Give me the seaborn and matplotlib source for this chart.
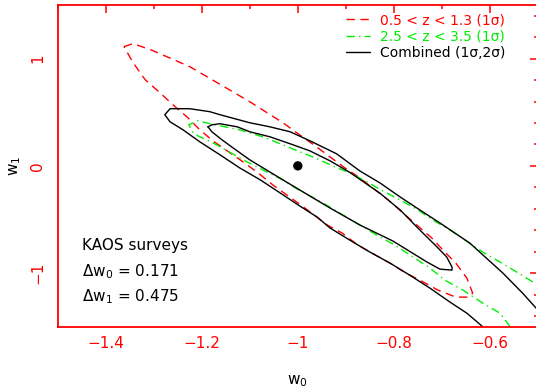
import numpy as np
import pandas as pd
import matplotlib
matplotlib.use("Agg")
import matplotlib.pyplot as plt
from matplotlib.lines import Line2D
import seaborn as sns

# ---------------- data ----------------
# 0.5 < z < 1.3 (1 sigma), closed contour
red_w0 = [-1.362, -1.343, -1.302, -1.225, -1.168, -1.100, -1.031, -1.002, -0.964, -0.933,
          -0.902, -0.871, -0.812, -0.781, -0.750, -0.721, -0.696, -0.671, -0.648, -0.636,
          -0.645, -0.671, -0.708, -0.742, -0.775, -0.808, -0.842, -0.875, -0.908, -0.939,
          -0.969, -0.991, -1.023, -1.052, -1.083, -1.114, -1.141, -1.177, -1.204, -1.229,
          -1.260, -1.287, -1.318, -1.343, -1.362]
red_w1 = [1.112, 1.140, 1.075, 0.925, 0.776, 0.598, 0.402, 0.308, 0.187, 0.084,
          -0.019, -0.112, -0.318, -0.439, -0.561, -0.673, -0.794, -0.907, -1.047, -1.187,
          -1.224, -1.224, -1.159, -1.075, -1.000, -0.907, -0.822, -0.738, -0.626, -0.551,
          -0.449, -0.374, -0.271, -0.178, -0.065, 0.037, 0.121, 0.234, 0.336, 0.449,
          0.570, 0.682, 0.804, 0.963, 1.112]

# 2.5 < z < 3.5 (1 sigma), clipped by the axes
green_w0 = [-0.558, -0.579, -0.615, -0.656, -0.694, -0.725, -0.760, -0.798, -0.829, -0.871,
            -0.906, -0.937, -0.971, -1.002, -1.031, -1.073, -1.110, -1.173, -1.208, -1.218,
            -1.227, -1.208, -1.183, -1.121, -1.073, -1.031, -0.996, -0.969, -0.923, -0.892,
            -0.856, -0.823, -0.787, -0.750, -0.719, -0.683, -0.646, -0.615, -0.579, -0.544,
            -0.500]
green_w1 = [-1.500, -1.374, -1.280, -1.159, -1.065, -0.953, -0.850, -0.738, -0.664, -0.551,
            -0.458, -0.374, -0.290, -0.215, -0.131, -0.037, 0.047, 0.206, 0.280, 0.308,
            0.383, 0.421, 0.393, 0.336, 0.271, 0.196, 0.131, 0.084, -0.009, -0.065,
            -0.150, -0.234, -0.318, -0.411, -0.505, -0.598, -0.710, -0.804, -0.897, -0.991,
            -1.112]

# Combined 2 sigma, clipped by the axes
outer_w0 = [-0.615, -0.648, -0.683, -0.725, -0.767, -0.808, -0.850, -0.892, -0.933, -0.960,
            -0.996, -1.037, -1.078, -1.121, -1.162, -1.204, -1.239, -1.266, -1.277,
            -1.266, -1.225, -1.183, -1.162, -1.100, -1.058, -1.016, -0.975, -0.919,
            -0.871, -0.829, -0.787, -0.746, -0.704, -0.642, -0.573, -0.532, -0.500]
outer_w1 = [-1.500, -1.374, -1.271, -1.140, -1.019, -0.907, -0.804, -0.692, -0.579, -0.477,
            -0.374, -0.252, -0.131, -0.019, 0.103, 0.224, 0.336, 0.411, 0.477,
            0.533, 0.533, 0.505, 0.477, 0.402, 0.364, 0.318, 0.234, 0.112,
            -0.047, -0.159, -0.290, -0.411, -0.533, -0.720, -1.000, -1.187, -1.346]

# Combined 1 sigma, closed contour
inner_w0 = [-1.187, -1.179, -1.162, -1.126, -1.100, -1.058, -1.016, -0.975, -0.933, -0.892,
            -0.850, -0.829, -0.787, -0.746, -0.710, -0.690, -0.679, -0.679, -0.704, -0.731,
            -0.802, -0.871, -0.933, -1.031, -1.100, -1.135, -1.158, -1.179, -1.187]
inner_w1 = [0.364, 0.383, 0.393, 0.364, 0.318, 0.271, 0.206, 0.140, 0.047, -0.060,
            -0.190, -0.255, -0.411, -0.598, -0.757, -0.850, -0.944, -0.972, -0.963, -0.897,
            -0.701, -0.551, -0.393, -0.131, 0.056, 0.168, 0.243, 0.318, 0.364]

fiducial_w0 = [-1.0]
fiducial_w1 = [0.0]

legend_labels = ["0.5 < z < 1.3 (1σ)", "2.5 < z < 3.5 (1σ)", "Combined (1σ,2σ)"]
annot_lines = ["KAOS surveys", "Δw$_0$ = 0.171", "Δw$_1$ = 0.475"]

x_ticks = [-1.4, -1.2, -1.0, -0.8, -0.6]
x_ticklabels = ["−1.4", "−1.2", "−1", "−0.8", "−0.6"]
y_ticks = [-1, 0, 1]
y_ticklabels = ["−1", "0", "1"]

# ---------------- styling ----------------
sns.set_style("white")
plt.rcParams["font.family"] = ["DejaVu Sans"]
plt.rcParams["mathtext.default"] = "regular"

RED = "#ff0000"
GREEN = "#00ee00"
dash_red = (0, (6, 4))
dash_green = (0, (6, 3, 1, 3))

fig = plt.figure(figsize=(5.36, 3.89), dpi=100)
ax = fig.add_axes([0.1076, 0.1601, 0.8961, 0.8270])

sns.lineplot(x=red_w0, y=red_w1, sort=False, estimator=None, ax=ax, color=RED,
             linestyle=dash_red, lw=1.0, legend=False)
sns.lineplot(x=green_w0, y=green_w1, sort=False, estimator=None, ax=ax, color=GREEN,
             linestyle=dash_green, lw=1.0, legend=False)
sns.lineplot(x=outer_w0, y=outer_w1, sort=False, estimator=None, ax=ax, color="black",
             lw=1.0, legend=False)
sns.lineplot(x=inner_w0, y=inner_w1, sort=False, estimator=None, ax=ax, color="black",
             lw=1.0, legend=False)
sns.scatterplot(x=fiducial_w0, y=fiducial_w1, ax=ax, color="black", s=45,
                edgecolor="none", legend=False)

ax.set_xlim(-1.5, -0.5)
ax.set_ylim(-1.5, 1.5)

ax.set_xticks(x_ticks)
ax.set_xticklabels(x_ticklabels)
ax.set_xticks(np.arange(-1.5, -0.49, 0.1), minor=True)
ax.set_yticks(y_ticks)
ax.set_yticklabels(y_ticklabels, rotation=90, va="center")
ax.set_yticks(np.arange(-1.4, 1.5, 0.2), minor=True)

for sp in ax.spines.values():
    sp.set_color(RED)
    sp.set_linewidth(1.3)

ax.tick_params(which="both", direction="in", top=True, right=True, color=RED,
               labelcolor=RED, labelsize=11, width=1.1)
ax.tick_params(which="major", length=5.8)
ax.tick_params(which="minor", length=3.2)
ax.tick_params(axis="x", which="major", pad=7)
ax.tick_params(axis="y", which="major", pad=9)

ax.set_xlabel("w$_0$", fontsize=11, color="black", labelpad=16)
ax.set_ylabel("w$_1$", fontsize=11, color="black", labelpad=5)

handles = [Line2D([], [], color=RED, linestyle=dash_red, lw=1.0),
           Line2D([], [], color=GREEN, linestyle=dash_green, lw=1.0),
           Line2D([], [], color="black", lw=1.0)]
leg = ax.legend(handles, legend_labels, loc="upper left", frameon=False,
                fontsize=10, handlelength=1.73, handletextpad=0.72, labelspacing=0.15,
                bbox_to_anchor=(0.5824, 1.0), borderaxespad=0.2)
for txt, c in zip(leg.get_texts(), [RED, GREEN, "black"]):
    txt.set_color(c)

annot_y = [-0.785, -1.028, -1.262]
for s, yy in zip(annot_lines, annot_y):
    ax.text(-1.449, yy, s, fontsize=11, color="black", va="baseline", ha="left")

fig.savefig("out.png", dpi=100)
